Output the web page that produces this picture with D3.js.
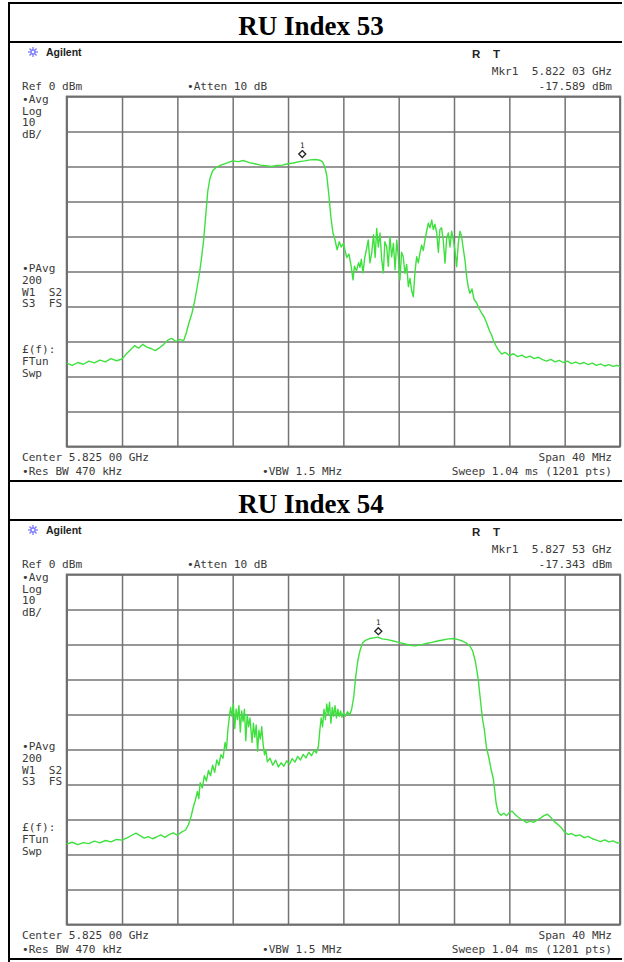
<!DOCTYPE html>
<html>
<head>
<meta charset="utf-8">
<script src="https://cdn.jsdelivr.net/npm/d3@7"></script>
<style>
  html, body { margin: 0; padding: 0; background: #fff; }
  svg { display: block; }
</style>
</head>
<body>
<svg id="chart"></svg>
<script>
// titles and marker readouts per panel
const titles = ["RU Index 53", "RU Index 54"];
const markerFreqText = ["5.822 03 GHz", "5.827 53 GHz"];
const markerAmpText = ["-17.589 dBm", "-17.343 dBm"];
const markerMHz = [-2.97, 2.53];
const markerDbm = [-17.589, -17.343];

// grid divisions (MHz offset from center, dBm)
const freqTicks = [-20, -16, -12, -8, -4, 0, 4, 8, 12, 16, 20];
const ampTicks = [-100, -90, -80, -70, -60, -50, -40, -30, -20, -10, 0];

// instrument annotations
const leftTop = ["•Avg", "Log", "10", "dB/"];
const leftMid = ["•PAvg", "200", "W1  S2", "S3  FS"];
const leftLow = ["£(f):", "FTun", "Swp"];

// traces: [MHz offset from 5.825 GHz, dBm]
const trace53 = [
  [-20.0,-76.2],[-19.6,-76.8],[-19.2,-76.0],[-18.8,-76.5],[-18.4,-75.6],[-18.0,-76.1],[-17.6,-75.3],[-17.2,-75.8],
  [-16.8,-74.9],[-16.4,-75.5],[-16.0,-75.0],[-15.7,-73.6],[-15.4,-72.4],[-15.1,-71.2],[-14.8,-71.9],[-14.5,-70.8],
  [-14.2,-71.6],[-13.9,-72.0],[-13.6,-72.6],[-13.3,-71.8],[-13.0,-70.9],[-12.7,-69.6],[-12.4,-69.1],[-12.1,-70.0],
  [-11.8,-69.4],[-11.55,-69.8],[-11.35,-67.5],[-11.15,-64.5],[-10.95,-62.0],[-10.75,-58.5],[-10.55,-54.0],[-10.4,-50.5],
  [-10.25,-46.0],[-10.1,-41.0],[-9.95,-34.0],[-9.8,-27.0],[-9.65,-23.5],[-9.45,-21.2],[-9.2,-20.3],[-8.9,-19.7],
  [-8.5,-19.1],[-8.0,-18.4],[-7.6,-18.6],[-7.2,-18.3],[-6.8,-18.9],[-6.4,-19.2],[-6.0,-19.6],[-5.6,-19.8],
  [-5.2,-20.0],[-4.8,-19.7],[-4.4,-19.6],[-4.0,-19.2],[-3.6,-19.0],[-3.2,-18.6],[-2.8,-18.4],[-2.4,-18.1],
  [-2.0,-18.0],[-1.7,-18.2],[-1.5,-18.7],[-1.35,-20.0],[-1.2,-22.5],[-1.05,-28.0],[-0.9,-34.5],[-0.75,-39.0],
  [-0.6,-41.0],[-0.45,-43.8],[-0.3,-41.5],[-0.15,-43.0],[0.0,-42.0],[0.15,-44.5],[0.25,-46.0],[0.4,-45.0],
  [0.55,-48.2],[0.7,-52.4],[0.8,-48.5],[0.95,-49.8],[1.1,-47.5],[1.2,-48.8],[1.3,-46.5],[1.42,-50.4],
  [1.55,-46.0],[1.68,-43.5],[1.8,-41.0],[1.92,-47.5],[2.05,-44.7],[2.18,-39.5],[2.3,-46.0],[2.41,-37.7],
  [2.53,-43.0],[2.65,-39.0],[2.77,-46.5],[2.89,-50.4],[3.0,-41.5],[3.13,-42.9],[3.25,-48.5],[3.37,-40.0],
  [3.49,-45.8],[3.62,-42.0],[3.74,-49.5],[3.86,-41.0],[3.98,-46.0],[4.09,-52.4],[4.21,-44.5],[4.33,-45.8],
  [4.45,-50.5],[4.58,-48.0],[4.7,-54.3],[4.82,-52.0],[4.94,-55.5],[5.06,-57.2],[5.18,-50.0],[5.3,-45.8],
  [5.42,-47.5],[5.54,-44.7],[5.66,-42.5],[5.78,-44.0],[5.9,-41.0],[6.02,-38.5],[6.14,-36.2],[6.26,-37.5],
  [6.39,-35.3],[6.5,-38.0],[6.62,-36.5],[6.75,-39.0],[6.87,-44.5],[6.98,-38.0],[7.1,-37.5],[7.22,-41.0],
  [7.35,-47.6],[7.47,-40.5],[7.59,-39.0],[7.71,-43.0],[7.83,-38.5],[7.95,-41.0],[8.07,-44.0],[8.19,-48.6],
  [8.31,-42.0],[8.43,-38.5],[8.55,-40.0],[8.67,-43.5],[8.79,-46.7],[8.92,-51.6],[9.03,-54.5],[9.15,-56.2],
  [9.3,-55.0],[9.45,-58.0],[9.64,-59.0],[9.8,-60.5],[10.0,-61.9],[10.18,-63.0],[10.36,-64.7],[10.55,-66.8],
  [10.7,-68.0],[10.84,-69.6],[11.0,-71.0],[11.2,-72.4],[11.45,-73.6],[11.7,-73.1],[12.0,-74.0],[12.3,-73.5],
  [12.6,-74.3],[12.9,-73.9],[13.2,-74.6],[13.5,-74.2],[13.8,-74.9],[14.1,-74.5],[14.4,-75.2],[14.7,-75.6],
  [15.0,-75.1],[15.3,-75.8],[15.6,-75.4],[15.9,-76.0],[16.2,-75.6],[16.5,-76.3],[16.8,-75.9],[17.1,-76.4],
  [17.4,-76.0],[17.7,-76.6],[18.0,-76.2],[18.3,-76.8],[18.6,-76.4],[18.9,-77.0],[19.2,-76.6],[19.5,-77.1],
  [19.8,-76.8],[20.0,-77.2]
];

const trace54 = [
  [-20.0,-77.0],[-19.6,-76.5],[-19.2,-77.2],[-18.8,-76.6],[-18.4,-76.9],[-18.0,-76.2],[-17.6,-76.7],[-17.2,-76.0],
  [-16.8,-76.4],[-16.4,-75.7],[-16.0,-75.9],[-15.6,-75.2],[-15.3,-74.5],[-15.0,-73.9],[-14.7,-74.6],[-14.4,-75.3],
  [-14.1,-74.9],[-13.8,-75.5],[-13.5,-75.0],[-13.2,-74.4],[-12.9,-75.1],[-12.6,-74.3],[-12.3,-73.8],[-12.0,-74.5],
  [-11.7,-73.6],[-11.4,-73.0],[-11.2,-71.5],[-11.0,-69.0],[-10.85,-66.5],[-10.7,-64.5],[-10.55,-62.0],[-10.45,-64.0],
  [-10.35,-59.5],[-10.2,-61.0],[-10.05,-57.5],[-9.9,-59.0],[-9.75,-56.0],[-9.6,-57.5],[-9.45,-54.5],[-9.3,-56.5],
  [-9.15,-53.0],[-9.0,-54.5],[-8.85,-51.5],[-8.7,-52.5],[-8.55,-48.0],[-8.45,-50.0],[-8.35,-44.5],[-8.25,-41.0],
  [-8.15,-38.0],[-8.05,-40.5],[-7.95,-37.0],[-7.85,-44.0],[-7.75,-38.5],[-7.65,-41.5],[-7.55,-37.5],[-7.45,-45.0],
  [-7.35,-39.0],[-7.25,-42.0],[-7.15,-38.5],[-7.05,-47.5],[-6.95,-40.0],[-6.85,-43.5],[-6.75,-41.0],[-6.6,-48.0],
  [-6.5,-42.5],[-6.4,-46.5],[-6.3,-43.0],[-6.2,-50.5],[-6.1,-44.5],[-6.0,-47.0],[-5.9,-43.5],[-5.8,-48.5],
  [-5.7,-51.5],[-5.6,-50.0],[-5.5,-53.5],[-5.3,-52.5],[-5.1,-54.5],[-4.9,-53.0],[-4.7,-55.0],[-4.5,-53.8],
  [-4.3,-54.8],[-4.1,-53.2],[-3.9,-54.2],[-3.7,-52.6],[-3.5,-53.6],[-3.3,-52.0],[-3.1,-53.0],[-2.9,-51.4],
  [-2.7,-52.4],[-2.5,-50.8],[-2.3,-51.8],[-2.1,-50.2],[-1.95,-51.0],[-1.8,-49.0],[-1.7,-44.5],[-1.6,-41.0],
  [-1.5,-43.5],[-1.4,-38.5],[-1.3,-41.5],[-1.2,-37.0],[-1.1,-40.0],[-1.0,-36.5],[-0.9,-42.5],[-0.8,-38.0],
  [-0.7,-40.5],[-0.6,-37.5],[-0.5,-41.0],[-0.4,-38.5],[-0.3,-40.5],[-0.2,-39.0],[-0.1,-40.8],[0.0,-39.5],
  [0.15,-40.5],[0.3,-39.2],[0.45,-40.2],[0.6,-38.5],[0.75,-35.0],[0.9,-29.0],[1.05,-24.5],[1.2,-21.8],
  [1.4,-19.5],[1.6,-18.8],[1.9,-18.3],[2.2,-18.1],[2.5,-17.9],[2.8,-18.4],[3.2,-18.6],[3.6,-19.0],
  [4.0,-19.4],[4.4,-19.8],[4.8,-20.2],[5.2,-20.4],[5.6,-20.1],[6.0,-19.7],[6.4,-19.4],[6.8,-19.0],
  [7.2,-18.7],[7.6,-18.4],[8.0,-18.3],[8.3,-18.6],[8.6,-19.0],[8.9,-19.6],[9.15,-20.5],[9.35,-21.8],
  [9.55,-25.0],[9.75,-29.9],[9.9,-35.5],[10.05,-41.0],[10.2,-44.5],[10.35,-49.5],[10.5,-52.0],[10.7,-56.0],
  [10.85,-58.5],[10.95,-62.0],[11.05,-65.5],[11.2,-68.0],[11.4,-68.8],[11.6,-68.2],[11.8,-68.9],[12.0,-68.0],
  [12.2,-67.6],[12.4,-68.5],[12.6,-69.2],[12.8,-69.8],[13.0,-70.2],[13.25,-70.9],[13.5,-70.4],[13.75,-70.8],
  [14.0,-70.2],[14.25,-69.6],[14.5,-68.9],[14.75,-68.5],[15.0,-69.4],[15.25,-70.6],[15.5,-71.4],[15.75,-72.3],
  [16.0,-73.6],[16.25,-74.3],[16.5,-74.0],[16.8,-74.7],[17.1,-74.4],[17.4,-75.2],[17.7,-74.8],[18.0,-75.5],
  [18.3,-75.9],[18.6,-76.3],[18.9,-75.8],[19.2,-76.4],[19.5,-76.1],[19.8,-76.7],[20.0,-76.6]
];

const traces = [trace53, trace54];

const width = 624, height = 962;
const panelOffset = 478;
const mono = "'DejaVu Sans Mono', monospace";

const svg = d3.select("#chart").attr("width", width).attr("height", height);

// table frame
const frame = svg.append("g").attr("stroke", "#000").attr("stroke-width", 2);
frame.append("line").attr("x1", 9).attr("x2", 9).attr("y1", 3).attr("y2", height);
[3, 42, 481, 520, 959].forEach(yy => {
  frame.append("line").attr("x1", 8).attr("x2", 622).attr("y1", yy).attr("y2", yy);
});

const x = d3.scaleLinear().domain([-20, 20]).range([66.7, 620]);

titles.forEach((title, i) => {
  const oy = i * panelOffset;
  const g = svg.append("g").attr("transform", `translate(0,${oy})`);

  g.append("text")
    .attr("x", 311).attr("y", 35)
    .attr("text-anchor", "middle")
    .attr("font-family", "'Liberation Serif', 'Times New Roman', serif")
    .attr("font-weight", "bold")
    .attr("font-size", 27)
    .text(title);

  // screenshot background
  g.append("rect").attr("x", 21).attr("y", 44).attr("width", 592).attr("height", 436).attr("fill", "#fff");

  const y = d3.scaleLinear().domain([-100, 0]).range([446.5, 96.5]);

  // Agilent logo
  const logo = g.append("g").attr("transform", "translate(33,52)")
    .attr("stroke", "#7d7dfa").attr("stroke-width", 1.3);
  d3.range(8).forEach(k => {
    const a = k * Math.PI / 4;
    logo.append("line").attr("x1", 0).attr("y1", 0)
      .attr("x2", 5 * Math.cos(a)).attr("y2", 5 * Math.sin(a));
  });
  logo.append("circle").attr("r", 2).attr("fill", "#fff");

  g.append("text").attr("x", 46).attr("y", 56)
    .attr("font-family", "'Liberation Sans', Arial, sans-serif")
    .attr("font-weight", "bold").attr("font-size", 10.5).attr("fill", "#222")
    .text("Agilent");

  g.append("text").attr("x", 472).attr("y", 58)
    .attr("font-family", "'Liberation Sans', Arial, sans-serif")
    .attr("font-weight", "bold").attr("font-size", 11.5).attr("fill", "#222")
    .attr("xml:space", "preserve")
    .text("R    T");

  const txt = (s, tx, ty, anchor) => g.append("text")
    .attr("x", tx).attr("y", ty)
    .attr("text-anchor", anchor || "start")
    .attr("font-family", mono).attr("font-size", 11.1).attr("fill", "#3a3a3a")
    .attr("xml:space", "preserve")
    .text(s);

  txt("Mkr1  " + markerFreqText[i], 612, 75, "end");
  txt("Ref 0 dBm", 22, 90);
  txt("•Atten 10 dB", 187, 90);
  txt(markerAmpText[i], 612, 90, "end");

  leftTop.forEach((s, k) => txt(s, 22, 103 + k * 11.6));
  leftMid.forEach((s, k) => txt(s, 22, 272 + k * 11.8));
  leftLow.forEach((s, k) => txt(s, 22, 353 + k * 12.2));

  txt("Center 5.825 00 GHz", 22, 461);
  txt("Span 40 MHz", 612, 461, "end");
  txt("•Res BW 470 kHz", 22, 475);
  txt("•VBW 1.5 MHz", 262, 475);
  txt("Sweep 1.04 ms (1201 pts)", 612, 475, "end");

  // graticule
  g.append("g")
    .attr("transform", `translate(0,${y(-100)})`)
    .call(d3.axisBottom(x).tickValues(freqTicks).tickSize(-(y(-100) - y(0))).tickFormat(""))
    .call(a => a.select(".domain").remove())
    .call(a => a.selectAll(".tick line").attr("stroke", "#747474").attr("stroke-width", 1.5));

  g.append("g")
    .attr("transform", `translate(${x(-20)},0)`)
    .call(d3.axisLeft(y).tickValues(ampTicks).tickSize(-(x(20) - x(-20))).tickFormat(""))
    .call(a => a.select(".domain").remove())
    .call(a => a.selectAll(".tick line").attr("stroke", "#747474").attr("stroke-width", 1.5));

  g.append("rect")
    .attr("x", x(-20)).attr("y", y(0))
    .attr("width", x(20) - x(-20)).attr("height", y(-100) - y(0))
    .attr("fill", "none").attr("stroke", "#6e6e6e").attr("stroke-width", 1.9);

  // trace
  g.append("path")
    .datum(traces[i])
    .attr("fill", "none")
    .attr("stroke", "#3ee03e")
    .attr("stroke-width", 1.4)
    .attr("stroke-linejoin", "round")
    .attr("d", d3.line().x(d => x(d[0])).y(d => y(d[1])));

  // marker
  const mx = x(markerMHz[i]), my = y(markerDbm[i]) - 4;
  g.append("path")
    .attr("d", `M${mx},${my - 3.5}L${mx + 3.5},${my}L${mx},${my + 3.5}L${mx - 3.5},${my}Z`)
    .attr("fill", "none").attr("stroke", "#222").attr("stroke-width", 1.3);
  g.append("text").attr("x", mx).attr("y", my - 6)
    .attr("text-anchor", "middle")
    .attr("font-family", mono).attr("font-size", 7.5).attr("fill", "#222")
    .text("1");
});
</script>
</body>
</html>
